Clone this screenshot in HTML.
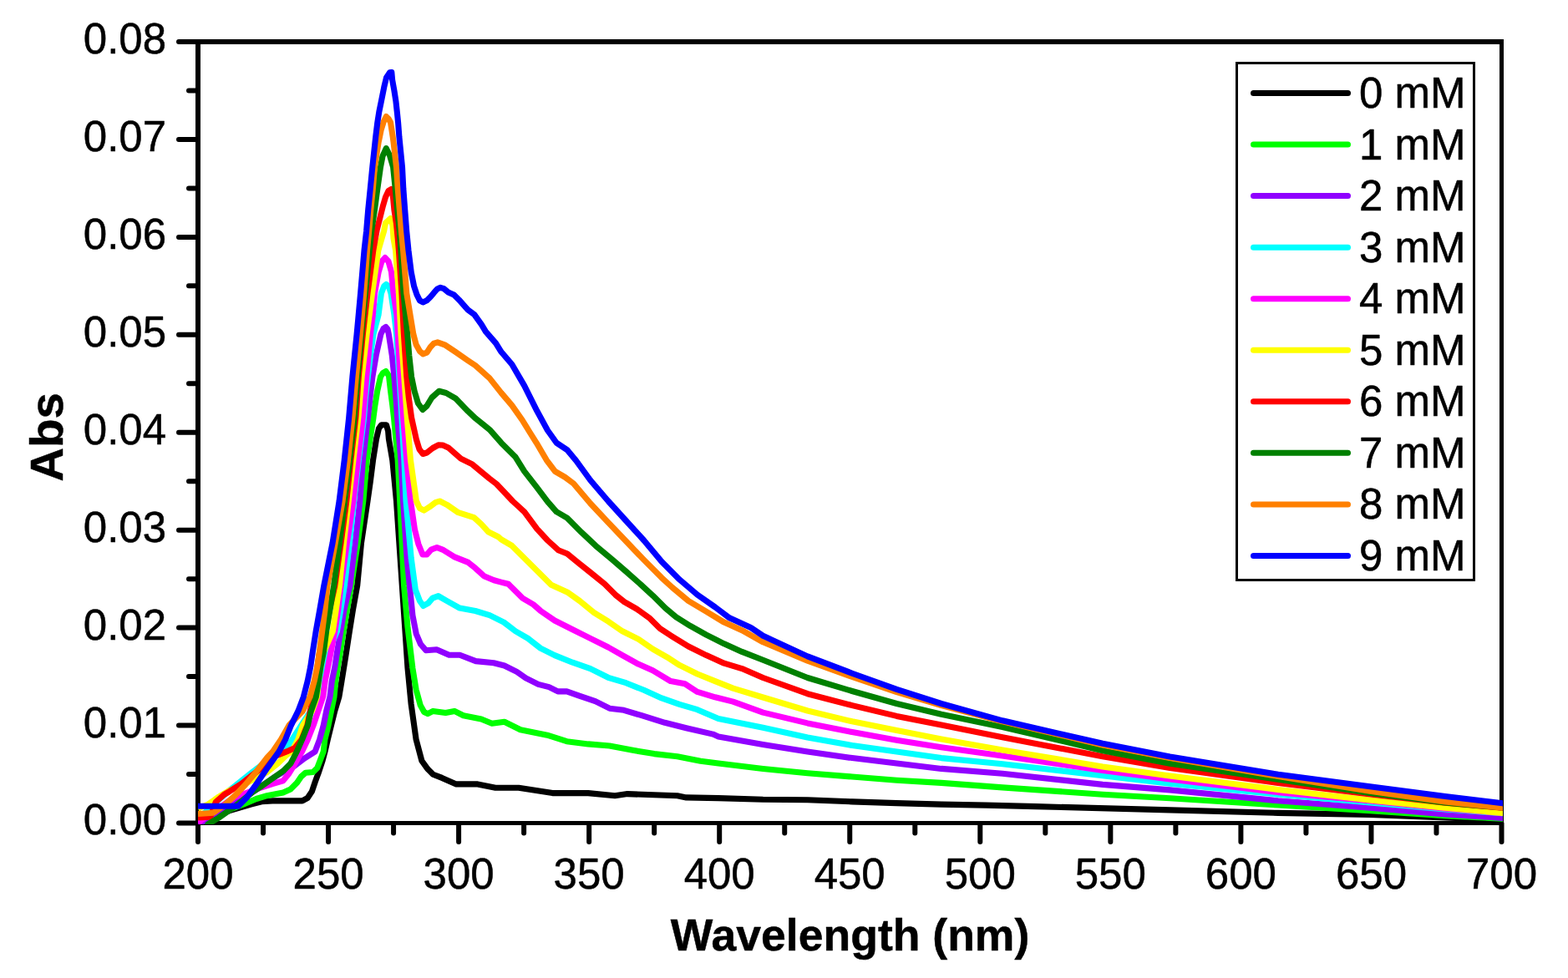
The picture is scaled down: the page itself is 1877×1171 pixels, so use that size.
<!DOCTYPE html>
<html lang="en"><head><meta charset="utf-8"><title>Abs vs Wavelength</title>
<style>html,body{margin:0;padding:0;background:#fff;}body{width:1877px;height:1171px;overflow:hidden;}svg{display:block;}text{font-family:"Liberation Sans",Arial,Helvetica,sans-serif;fill:#000;stroke:#000;stroke-width:0.5px;stroke-linejoin:round;}</style></head><body>
<svg width="1877" height="1171" viewBox="0 0 1877 1171">
<rect x="0" y="0" width="1877" height="1171" fill="#ffffff"/>
<g fill="#000" shape-rendering="crispEdges">
<rect x="234" y="47" width="1566" height="6"/>
<rect x="234" y="47" width="6" height="941"/>
<rect x="1795" y="47" width="5" height="941"/>
<rect x="234" y="983" width="1566" height="5"/>
</g>
<g stroke="#000" stroke-linecap="round" fill="none">
<line x1="237" y1="985.50" x2="214" y2="985.50" stroke-width="6"/>
<line x1="237" y1="927.03" x2="226" y2="927.03" stroke-width="6"/>
<line x1="237" y1="868.56" x2="214" y2="868.56" stroke-width="6"/>
<line x1="237" y1="810.09" x2="226" y2="810.09" stroke-width="6"/>
<line x1="237" y1="751.62" x2="214" y2="751.62" stroke-width="6"/>
<line x1="237" y1="693.16" x2="226" y2="693.16" stroke-width="6"/>
<line x1="237" y1="634.69" x2="214" y2="634.69" stroke-width="6"/>
<line x1="237" y1="576.22" x2="226" y2="576.22" stroke-width="6"/>
<line x1="237" y1="517.75" x2="214" y2="517.75" stroke-width="6"/>
<line x1="237" y1="459.28" x2="226" y2="459.28" stroke-width="6"/>
<line x1="237" y1="400.81" x2="214" y2="400.81" stroke-width="6"/>
<line x1="237" y1="342.34" x2="226" y2="342.34" stroke-width="6"/>
<line x1="237" y1="283.88" x2="214" y2="283.88" stroke-width="6"/>
<line x1="237" y1="225.41" x2="226" y2="225.41" stroke-width="6"/>
<line x1="237" y1="166.94" x2="214" y2="166.94" stroke-width="6"/>
<line x1="237" y1="108.47" x2="226" y2="108.47" stroke-width="6"/>
<line x1="237" y1="50.00" x2="214" y2="50.00" stroke-width="6"/>
<line x1="237.00" y1="986" x2="237.00" y2="1008" stroke-width="6"/>
<line x1="315.02" y1="986" x2="315.02" y2="997.5" stroke-width="6"/>
<line x1="393.05" y1="986" x2="393.05" y2="1008" stroke-width="6"/>
<line x1="471.07" y1="986" x2="471.07" y2="997.5" stroke-width="6"/>
<line x1="549.10" y1="986" x2="549.10" y2="1008" stroke-width="6"/>
<line x1="627.12" y1="986" x2="627.12" y2="997.5" stroke-width="6"/>
<line x1="705.15" y1="986" x2="705.15" y2="1008" stroke-width="6"/>
<line x1="783.17" y1="986" x2="783.17" y2="997.5" stroke-width="6"/>
<line x1="861.20" y1="986" x2="861.20" y2="1008" stroke-width="6"/>
<line x1="939.23" y1="986" x2="939.23" y2="997.5" stroke-width="6"/>
<line x1="1017.25" y1="986" x2="1017.25" y2="1008" stroke-width="6"/>
<line x1="1095.28" y1="986" x2="1095.28" y2="997.5" stroke-width="6"/>
<line x1="1173.30" y1="986" x2="1173.30" y2="1008" stroke-width="6"/>
<line x1="1251.33" y1="986" x2="1251.33" y2="997.5" stroke-width="6"/>
<line x1="1329.35" y1="986" x2="1329.35" y2="1008" stroke-width="6"/>
<line x1="1407.38" y1="986" x2="1407.38" y2="997.5" stroke-width="6"/>
<line x1="1485.40" y1="986" x2="1485.40" y2="1008" stroke-width="6"/>
<line x1="1563.42" y1="986" x2="1563.42" y2="997.5" stroke-width="6"/>
<line x1="1641.45" y1="986" x2="1641.45" y2="1008" stroke-width="6"/>
<line x1="1719.47" y1="986" x2="1719.47" y2="997.5" stroke-width="6"/>
<line x1="1797.50" y1="986" x2="1797.50" y2="1008" stroke-width="6"/>
</g>
<g font-size="51">
<text x="199.1" y="999.4" text-anchor="end">0.00</text>
<text x="199.1" y="882.5" text-anchor="end">0.01</text>
<text x="199.1" y="765.5" text-anchor="end">0.02</text>
<text x="199.1" y="648.6" text-anchor="end">0.03</text>
<text x="199.1" y="531.6" text-anchor="end">0.04</text>
<text x="199.1" y="414.7" text-anchor="end">0.05</text>
<text x="199.1" y="297.8" text-anchor="end">0.06</text>
<text x="199.1" y="180.8" text-anchor="end">0.07</text>
<text x="199.1" y="63.9" text-anchor="end">0.08</text>
<text x="237.0" y="1063.6" text-anchor="middle">200</text>
<text x="393.1" y="1063.6" text-anchor="middle">250</text>
<text x="549.1" y="1063.6" text-anchor="middle">300</text>
<text x="705.1" y="1063.6" text-anchor="middle">350</text>
<text x="861.2" y="1063.6" text-anchor="middle">400</text>
<text x="1017.2" y="1063.6" text-anchor="middle">450</text>
<text x="1173.3" y="1063.6" text-anchor="middle">500</text>
<text x="1329.3" y="1063.6" text-anchor="middle">550</text>
<text x="1485.4" y="1063.6" text-anchor="middle">600</text>
<text x="1641.5" y="1063.6" text-anchor="middle">650</text>
<text x="1797.5" y="1063.6" text-anchor="middle">700</text>
</g>
<text x="1017.6" y="1138.4" text-anchor="middle" font-size="54.4" font-weight="bold" textLength="429.5" lengthAdjust="spacingAndGlyphs">Wavelength (nm)</text>
<text transform="translate(75.0,523.4) rotate(-90)" text-anchor="middle" font-size="55.4" font-weight="bold" textLength="106.6" lengthAdjust="spacingAndGlyphs">Abs</text>
<defs><clipPath id="plotclip"><rect x="237" y="50" width="1562" height="937"/></clipPath></defs>
<g clip-path="url(#plotclip)" fill="none" stroke-width="7.1" stroke-linejoin="round" stroke-linecap="butt">
<polyline stroke="#000000" points="237.0,984.0 274.8,970.6 287.6,966.8 300.4,963.0 313.2,959.7 326.1,958.9 361.9,958.9 368.3,955.3 373.4,947.6 377.3,936.0 381.1,925.8 386.2,910.4 389.0,899.9 392.3,885.4 396.5,868.3 400.8,851.2 405.9,834.2 409.0,815.4 411.8,798.3 414.5,781.2 418.4,755.6 422.5,730.0 427.7,701.2 432.5,650.0 440.0,599.9 443.3,576.8 446.5,551.2 450.5,525.6 453.5,513.0 456.5,508.7 462.5,508.7 464.6,516.0 465.4,525.6 469.8,551.2 472.3,576.8 474.5,599.9 488.0,800.0 492.1,842.7 498.1,885.4 504.9,911.0 512.0,920.8 518.4,927.2 529.1,931.4 546.2,938.9 571.8,938.9 593.1,943.2 620.9,943.2 661.4,949.6 704.1,949.6 736.1,952.8 751.1,950.6 810.8,952.8 821.5,954.9 860.0,955.6 913.4,957.3 966.7,957.7 1020.1,959.9 1073.4,961.6 1126.8,963.1 1180.2,964.1 1240.0,965.6 1400.5,969.9 1530.0,973.4 1640.0,975.4 1730.0,979.0 1798.5,981.5 1804.0,981.7"/>
<polyline stroke="#00ff00" points="237.0,985.0 260.0,975.0 291.5,963.0 306.8,956.5 319.7,952.7 338.9,948.9 347.8,945.0 355.5,937.3 360.6,929.7 365.8,925.2 374.7,924.5 379.8,919.4 383.7,909.2 387.2,899.9 388.9,885.4 393.1,868.3 396.5,851.2 400.0,834.2 401.8,815.4 404.4,798.3 407.3,781.2 411.2,755.6 415.5,730.0 420.5,701.2 428.2,650.0 434.8,599.9 439.1,551.2 447.0,499.9 448.9,485.4 451.7,468.3 455.5,451.2 458.5,446.5 461.9,444.4 465.5,450.0 467.6,468.3 469.8,485.4 471.5,500.0 476.2,551.2 478.7,599.9 483.6,701.2 487.9,749.9 493.9,800.0 498.1,825.6 503.2,844.4 507.7,852.5 512.0,854.6 518.4,851.4 533.4,853.5 544.0,851.4 554.7,856.7 576.1,861.0 588.9,866.3 603.8,864.2 623.0,873.8 655.0,880.2 678.5,887.7 704.1,890.9 729.7,893.0 757.5,898.3 783.1,902.6 810.8,905.8 838.6,911.2 860.0,914.0 913.4,920.4 966.7,925.7 1020.1,930.0 1073.4,934.2 1126.8,937.4 1200.0,942.9 1320.0,951.2 1400.5,955.8 1530.0,964.0 1640.0,970.8 1730.0,976.7 1798.5,980.2 1804.0,980.5"/>
<polyline stroke="#9000ff" points="237.0,987.0 260.0,975.0 300.0,950.0 329.9,929.7 338.9,924.5 353.0,916.8 364.5,907.9 377.1,899.9 382.6,885.4 387.3,868.3 390.7,851.2 395.0,834.2 397.3,815.4 400.9,798.3 403.5,781.2 407.8,755.6 412.0,730.0 418.8,701.2 425.2,650.0 430.8,600.0 434.4,551.2 440.4,499.9 442.9,476.8 445.9,451.2 450.2,425.6 455.9,400.0 459.0,393.5 461.9,391.5 464.0,394.0 465.3,400.0 469.3,425.6 471.9,451.2 474.0,476.8 475.7,499.9 480.0,551.2 482.6,599.9 487.1,668.3 493.9,736.6 498.2,758.8 503.5,771.3 509.9,778.8 522.7,777.7 537.6,784.2 550.4,784.2 569.6,791.6 591.0,793.8 603.8,797.0 618.7,804.4 629.4,811.9 644.4,819.4 657.2,822.6 667.8,827.9 678.5,827.9 693.4,833.2 712.6,839.6 729.7,848.2 746.8,850.3 768.1,856.7 795.9,865.3 821.5,871.7 853.5,879.1 860.0,881.9 913.4,891.5 966.7,900.1 1020.1,907.6 1073.4,914.0 1126.8,920.4 1200.0,926.2 1320.0,939.4 1400.5,945.9 1530.0,958.8 1640.0,967.2 1730.0,974.9 1798.5,979.4 1804.0,979.8"/>
<polyline stroke="#00ffff" points="237.0,981.0 255.6,963.0 274.8,946.3 287.6,936.0 300.4,925.8 317.1,913.0 330.0,903.0 340.0,899.9 349.8,885.4 360.7,868.3 372.0,851.2 380.0,834.2 385.3,815.4 388.5,798.3 393.0,781.2 403.5,755.6 407.8,730.0 412.4,701.2 418.4,650.0 423.7,599.9 429.3,551.2 435.7,499.9 437.4,476.8 440.4,451.2 443.5,425.6 447.0,400.0 453.1,376.8 456.4,351.2 459.8,342.5 462.3,340.5 465.3,342.7 468.0,351.2 471.9,376.8 474.5,400.0 476.2,425.6 477.9,451.2 479.6,476.8 480.9,499.9 483.9,551.2 486.0,599.9 492.2,668.3 497.3,705.9 502.5,719.5 506.7,725.5 512.7,722.1 517.8,716.1 524.7,713.6 534.9,719.5 550.3,728.1 569.1,731.5 586.1,736.6 603.2,745.1 617.1,755.8 632.0,764.4 647.0,776.1 664.0,784.6 685.4,793.2 706.7,800.6 728.1,811.3 749.4,817.7 770.8,826.3 792.1,835.9 813.4,843.3 834.8,849.7 860.0,860.6 913.4,871.3 966.7,883.0 1020.1,892.6 1073.4,900.1 1126.8,907.6 1200.0,914.7 1320.0,928.8 1400.5,938.2 1530.0,951.2 1640.0,960.9 1730.0,969.0 1798.5,973.6 1804.0,974.0"/>
<polyline stroke="#ff00ff" points="237.0,985.0 280.0,955.0 306.8,945.0 326.1,938.6 338.9,934.8 345.3,927.0 351.7,916.8 357.5,906.6 361.5,899.9 368.4,885.4 375.2,868.3 380.9,851.2 386.7,834.2 389.2,815.4 392.6,798.3 396.0,781.2 400.9,755.6 404.8,730.0 408.1,701.2 415.4,650.0 422.9,599.9 428.4,551.2 434.4,499.9 438.7,451.2 443.4,400.0 446.4,376.8 448.5,351.2 453.2,325.6 457.0,313.0 461.0,308.6 465.0,313.0 468.5,325.6 471.0,351.2 474.9,376.8 476.2,400.0 479.1,451.2 482.6,499.9 486.8,551.2 491.5,599.9 496.5,634.2 500.8,651.2 505.9,664.0 511.0,664.0 516.1,658.1 523.0,655.5 529.8,658.1 543.5,666.6 560.5,673.4 569.1,680.3 579.3,689.7 591.3,694.8 600.0,697.1 608.5,699.3 625.6,716.3 638.4,723.8 647.0,731.3 664.0,743.0 685.4,753.7 706.7,764.4 728.1,775.0 745.1,784.6 762.2,794.2 781.4,802.8 802.8,815.6 819.9,818.8 834.8,828.4 856.1,834.8 877.5,840.1 913.4,853.1 966.7,865.9 1020.1,876.6 1073.4,886.2 1126.8,894.7 1200.0,905.1 1320.0,922.4 1400.5,933.1 1530.0,948.6 1640.0,959.0 1730.0,968.1 1798.5,973.5 1804.0,973.9"/>
<polyline stroke="#ffff00" points="237.0,968.0 249.2,963.0 262.0,954.0 274.8,946.3 287.6,941.2 300.4,934.8 319.7,924.5 332.5,914.3 343.0,904.0 349.0,899.9 356.8,885.4 362.6,868.3 373.5,851.2 379.5,834.2 381.3,815.4 383.9,798.3 387.3,781.2 398.4,755.6 402.2,730.0 406.4,701.2 411.5,650.0 417.3,599.9 422.9,551.2 428.9,499.9 433.1,451.2 439.1,400.0 445.5,351.2 452.8,300.0 457.0,285.4 459.6,276.8 461.5,267.0 467.4,261.5 470.0,270.0 471.0,285.4 473.6,300.0 477.4,351.2 480.0,400.0 483.8,451.2 487.3,499.9 491.5,551.2 498.4,599.9 502.5,608.5 507.6,611.1 514.4,606.8 521.3,601.7 526.4,600.0 534.9,604.3 548.6,613.7 567.4,619.6 575.9,627.3 584.4,636.7 596.4,642.7 600.0,645.9 612.8,653.4 625.6,666.2 642.7,683.2 659.8,700.3 679.0,708.9 693.9,719.5 711.0,733.4 728.1,744.1 745.1,755.8 764.4,765.4 781.4,777.2 798.5,786.8 813.4,796.4 834.8,807.0 856.1,815.6 877.5,824.1 913.4,835.0 966.7,851.0 1020.1,863.8 1073.4,874.5 1126.8,885.1 1200.0,898.0 1320.0,917.9 1400.5,929.0 1530.0,945.4 1640.0,958.0 1730.0,967.2 1798.5,973.5 1804.0,974.0"/>
<polyline stroke="#ff0000" points="237.0,979.0 251.8,978.3 258.2,960.4 268.4,951.4 274.8,947.6 288.9,938.6 301.7,928.4 319.7,914.3 329.9,905.3 343.0,899.9 353.0,895.5 361.0,885.4 367.9,868.3 371.3,851.2 375.5,834.2 378.0,815.4 380.0,798.3 382.5,781.2 389.5,755.6 394.5,730.0 400.9,701.2 408.1,650.0 414.8,599.9 419.9,551.2 425.9,499.9 429.3,451.2 434.4,400.0 440.0,351.2 446.8,300.0 451.2,275.1 455.1,259.8 458.1,247.8 461.5,236.0 465.0,228.5 468.3,226.5 470.5,236.0 471.9,251.2 474.5,268.3 476.2,285.4 477.4,299.9 480.9,351.2 483.4,400.0 486.8,451.2 489.4,476.8 492.6,500.0 498.2,525.6 502.0,538.0 506.3,543.5 511.0,542.0 518.0,536.5 524.7,532.9 530.0,533.0 536.6,535.9 551.7,549.1 565.4,555.9 575.6,564.4 585.9,573.0 594.4,579.5 613.7,600.0 627.7,612.8 642.7,633.1 655.5,647.0 668.3,658.7 679.0,663.0 691.8,673.6 706.7,685.4 723.8,699.3 736.6,712.1 747.3,720.6 762.2,729.1 777.2,739.8 790.0,752.6 804.9,762.2 824.1,774.0 845.5,784.6 866.8,794.2 888.2,800.6 913.4,811.5 966.7,830.7 1020.1,844.6 1073.4,857.4 1126.8,868.1 1200.0,882.7 1320.0,905.8 1400.5,919.4 1530.0,937.5 1640.0,950.9 1730.0,961.3 1798.5,967.2 1804.0,967.7"/>
<polyline stroke="#008000" points="242.0,998.0 249.0,986.8 262.0,979.0 281.2,965.5 301.7,948.9 313.2,941.2 326.1,932.2 338.9,923.2 347.8,914.3 355.3,899.9 361.7,885.4 368.5,868.3 372.4,851.2 378.4,834.2 381.3,815.4 383.9,798.3 387.3,781.2 390.7,755.6 395.0,730.0 399.6,701.2 406.4,650.0 412.6,599.9 418.6,551.2 424.2,499.9 428.0,451.2 432.7,400.0 437.4,351.2 442.3,300.0 444.7,276.8 448.5,251.2 451.9,225.6 455.5,200.0 458.0,187.0 462.3,177.6 466.5,186.0 470.6,200.0 473.2,225.6 475.7,251.2 478.3,276.8 480.0,299.9 483.0,351.2 487.7,400.0 489.8,425.6 492.6,451.2 496.1,468.3 500.5,483.0 505.9,490.5 511.0,486.0 517.0,476.0 525.5,468.3 534.0,470.5 545.1,476.8 560.0,492.2 569.1,500.8 586.1,514.4 600.0,530.2 617.1,547.3 627.7,564.4 642.7,583.6 655.5,600.6 666.2,612.8 679.0,620.3 696.1,637.4 713.1,653.4 732.3,669.4 749.4,684.3 766.5,699.3 781.4,713.1 796.4,728.1 809.2,738.7 826.3,749.4 845.5,760.1 866.8,770.8 888.2,780.4 913.4,790.2 966.7,811.5 1020.1,827.5 1073.4,842.5 1126.8,855.3 1200.0,870.5 1320.0,898.7 1400.5,914.3 1530.0,933.2 1640.0,949.5 1730.0,961.0 1798.5,967.0 1804.0,967.5"/>
<polyline stroke="#ff8000" points="237.0,974.5 255.6,973.2 268.4,964.2 281.2,952.7 294.0,939.3 306.8,923.9 319.7,907.2 326.5,899.9 336.3,885.4 346.1,868.3 362.4,851.2 371.1,834.2 376.2,815.4 379.8,798.3 382.3,781.2 385.7,755.6 389.0,730.0 391.9,701.2 401.3,650.0 410.1,599.9 416.5,551.2 422.0,499.9 426.3,451.2 431.4,400.0 435.7,351.2 439.5,300.0 441.7,276.8 443.8,251.2 446.4,225.6 448.5,200.0 453.2,169.9 454.5,163.9 456.2,155.4 459.5,145.0 462.3,139.5 465.0,142.0 467.5,146.5 468.9,155.4 470.2,163.9 471.0,169.9 474.5,200.0 476.2,225.6 478.3,251.2 480.4,276.8 482.6,299.9 486.8,351.2 494.8,400.0 498.2,412.8 502.5,420.5 506.3,423.9 511.0,422.2 515.3,415.4 519.5,411.1 523.8,409.8 532.3,412.8 545.1,421.3 560.0,431.6 569.1,437.6 586.1,452.9 600.0,470.4 612.8,485.4 625.2,503.0 633.5,516.5 642.2,530.3 654.2,550.8 664.4,564.4 676.4,571.3 686.6,579.0 706.7,602.8 728.1,625.6 749.4,648.0 770.8,670.4 792.1,691.8 804.9,703.5 824.1,719.5 845.5,732.3 866.8,745.1 888.2,754.7 913.4,768.8 966.7,791.2 1020.1,810.4 1073.4,828.6 1126.8,844.6 1200.0,863.7 1320.0,892.0 1400.5,907.5 1530.0,929.5 1640.0,947.3 1730.0,960.0 1798.5,967.2 1804.0,967.8"/>
<polyline stroke="#0000ff" points="237.0,965.3 285.1,965.3 295.0,955.3 308.0,937.3 321.0,918.1 334.0,899.9 341.7,885.4 348.5,868.3 357.0,851.2 363.4,834.2 368.2,815.4 371.7,798.3 374.2,781.2 378.2,755.6 382.8,730.0 387.8,701.2 398.1,650.0 406.1,599.9 412.2,551.2 417.7,499.9 421.9,451.2 427.1,400.0 431.6,351.2 436.0,300.0 438.6,276.8 440.7,251.2 443.3,225.6 445.8,200.0 449.7,163.9 451.8,146.8 453.8,134.0 456.4,121.2 459.8,104.2 462.5,93.0 466.5,86.8 468.8,86.5 469.6,95.6 471.9,108.4 473.9,121.2 475.3,134.0 476.6,146.8 477.9,163.9 481.5,200.0 482.8,225.6 484.7,251.2 486.7,276.8 489.0,299.9 492.2,325.6 495.6,342.7 499.0,352.9 502.5,359.8 506.3,361.9 511.0,359.8 515.3,355.5 519.5,350.4 523.8,345.7 527.2,344.4 531.5,345.7 536.6,349.9 543.4,352.9 549.4,358.9 560.0,370.9 567.8,376.6 576.4,388.6 581.5,397.1 593.5,410.8 600.0,421.3 612.8,436.3 627.7,461.9 642.7,491.8 655.5,515.3 666.2,530.2 679.0,538.7 689.6,551.5 706.7,575.0 728.1,600.0 749.4,623.5 770.8,647.0 792.1,672.6 813.4,693.9 834.8,712.1 856.1,727.0 873.2,739.8 898.8,751.5 913.4,761.3 966.7,785.9 1020.1,806.2 1073.4,825.4 1126.8,842.5 1200.0,862.8 1320.0,890.3 1400.5,905.9 1530.0,927.3 1640.0,941.7 1730.0,953.5 1798.5,961.7 1804.0,962.4"/>
</g>
<rect x="1480.5" y="75.5" width="284" height="619" fill="#fff" stroke="#000" stroke-width="3" shape-rendering="crispEdges"/>
<g font-size="51">
<line x1="1500.5" y1="111.50" x2="1613.5" y2="111.50" stroke="#000000" stroke-width="7" stroke-linecap="round"/>
<text x="1627" y="128.9">0 mM</text>
<line x1="1500.5" y1="173.05" x2="1613.5" y2="173.05" stroke="#00ff00" stroke-width="7" stroke-linecap="round"/>
<text x="1627" y="190.5">1 mM</text>
<line x1="1500.5" y1="234.60" x2="1613.5" y2="234.60" stroke="#9000ff" stroke-width="7" stroke-linecap="round"/>
<text x="1627" y="252.0">2 mM</text>
<line x1="1500.5" y1="296.15" x2="1613.5" y2="296.15" stroke="#00ffff" stroke-width="7" stroke-linecap="round"/>
<text x="1627" y="313.5">3 mM</text>
<line x1="1500.5" y1="357.70" x2="1613.5" y2="357.70" stroke="#ff00ff" stroke-width="7" stroke-linecap="round"/>
<text x="1627" y="375.1">4 mM</text>
<line x1="1500.5" y1="419.25" x2="1613.5" y2="419.25" stroke="#ffff00" stroke-width="7" stroke-linecap="round"/>
<text x="1627" y="436.6">5 mM</text>
<line x1="1500.5" y1="480.80" x2="1613.5" y2="480.80" stroke="#ff0000" stroke-width="7" stroke-linecap="round"/>
<text x="1627" y="498.2">6 mM</text>
<line x1="1500.5" y1="542.35" x2="1613.5" y2="542.35" stroke="#008000" stroke-width="7" stroke-linecap="round"/>
<text x="1627" y="559.7">7 mM</text>
<line x1="1500.5" y1="603.90" x2="1613.5" y2="603.90" stroke="#ff8000" stroke-width="7" stroke-linecap="round"/>
<text x="1627" y="621.3">8 mM</text>
<line x1="1500.5" y1="665.45" x2="1613.5" y2="665.45" stroke="#0000ff" stroke-width="7" stroke-linecap="round"/>
<text x="1627" y="682.8">9 mM</text>
</g>
</svg></body></html>
